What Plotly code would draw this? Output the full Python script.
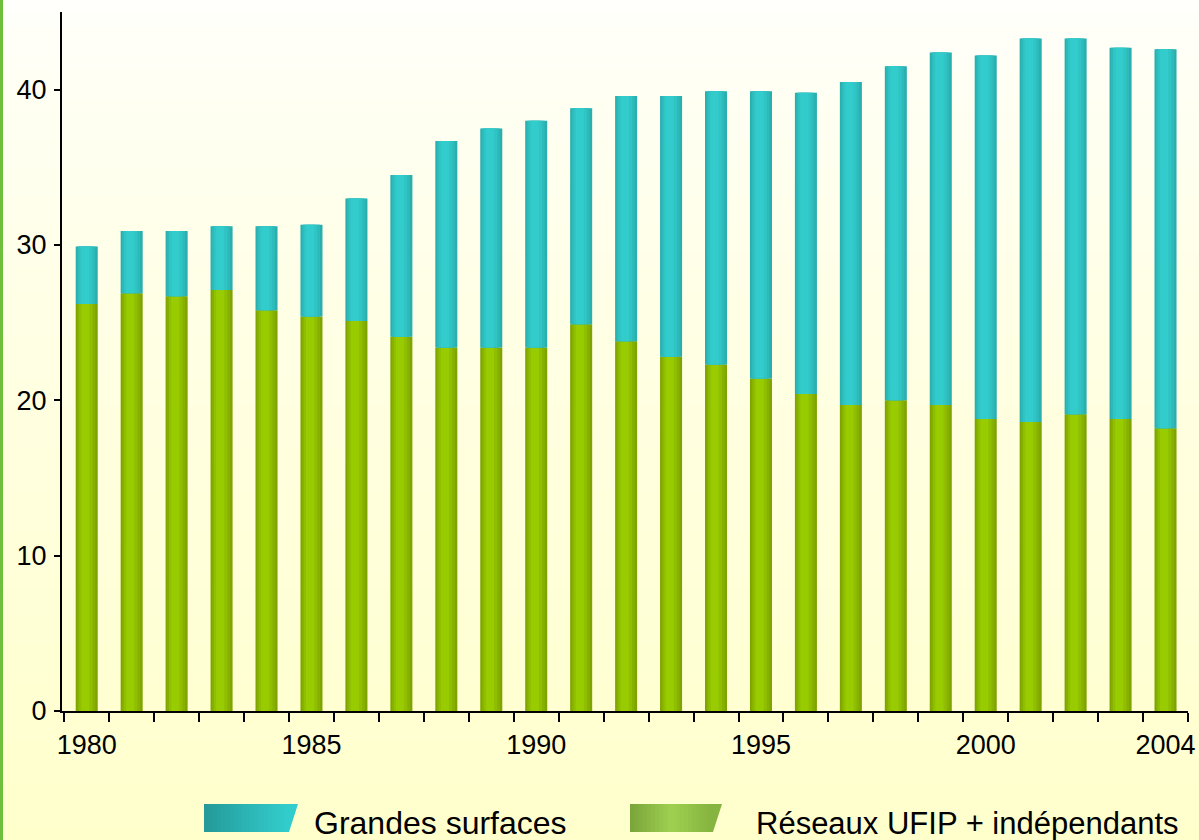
import plotly.graph_objects as go

years = list(range(1980, 2005))
totals = [29.9, 30.9, 30.9, 31.2, 31.2, 31.3, 33.0, 34.5, 36.7, 37.5, 38.0, 38.8, 39.6,
          39.6, 39.9, 39.9, 39.8, 40.5, 41.5, 42.4, 42.2, 43.3, 43.3, 42.7, 42.6]
reseaux = [26.2, 26.9, 26.7, 27.1, 25.8, 25.4, 25.1, 24.1, 23.4, 23.4, 23.4, 24.9, 23.8,
           22.8, 22.3, 21.4, 20.4, 19.7, 20.0, 19.7, 18.8, 18.6, 19.1, 18.8, 18.2]
grandes = [round(t - r, 1) for t, r in zip(totals, reseaux)]
tick_years = [1980, 1985, 1990, 1995, 2000, 2004]
series_names = ["Grandes surfaces", "Réseaux UFIP + indépendants"]

W, H = 1199, 840
L, R, T, B = 62, 11, 12, 129
PW, PH = W - L - R, H - T - B


def px(x):
    return (x - L) / PW


def py(y):
    return (H - B - y) / PH


def hexmix(c1, c2, t):
    a = [int(c1[i:i + 2], 16) for i in (1, 3, 5)]
    b = [int(c2[i:i + 2], 16) for i in (1, 3, 5)]
    return "#" + "".join(f"{round(a[k] + (b[k] - a[k]) * t):02x}" for k in range(3))


fig = go.Figure()

# layered bars to imitate horizontal gradient
green_layers = [(0.49, 0.0, "#7ea400"), (0.40, -0.01, "#87b000"), (0.30, -0.02, "#90be00"),
                (0.18, -0.03, "#99cc00")]
cyan_layers = [(0.49, 0.0, "#2aaeae"), (0.40, -0.01, "#2dbaba"), (0.30, -0.02, "#30c4c4"),
               (0.18, -0.03, "#33cccc")]

for w, off, col in green_layers:
    fig.add_trace(go.Bar(x=years, y=reseaux, base=0, width=w, offset=-w / 2 + off,
                         marker=dict(color=col, line=dict(width=0)), showlegend=False,
                         name=series_names[1], hoverinfo="x+y"))
for w, off, col in cyan_layers:
    fig.add_trace(go.Bar(x=years, y=grandes, base=reseaux, width=w, offset=-w / 2 + off,
                         marker=dict(color=col, line=dict(width=0)), showlegend=False,
                         name=series_names[0], hoverinfo="x+y"))

shapes = []
# background vertical gradient
n = 60
for i in range(n):
    y0 = H * i / n
    y1 = H * (i + 1) / n
    t = (i / (n - 1)) ** 0.8
    shapes.append(dict(type="rect", xref="paper", yref="paper", layer="below",
                       x0=px(-2), x1=px(W + 2), y0=py(y1 + 1), y1=py(y0),
                       fillcolor=hexmix("#fffffb", "#ffffcc", t), line=dict(width=0)))
# left green border
shapes.append(dict(type="rect", xref="paper", yref="paper", layer="above",
                   x0=px(-1), x1=px(3), y0=py(H + 2), y1=py(-2),
                   fillcolor="#6dbf3c", line=dict(width=0)))


def swatch(xl, xr_top, xr_bot, ytop, ybot, cl, cm, cr):
    # base parallelogram in end colour
    path = (f"M {px(xl):.5f},{py(ybot):.5f} L {px(xr_bot):.5f},{py(ybot):.5f} "
            f"L {px(xr_top):.5f},{py(ytop):.5f} L {px(xl):.5f},{py(ytop):.5f} Z")
    shapes.append(dict(type="path", xref="paper", yref="paper", path=path,
                       fillcolor=cr, line=dict(width=0), layer="above"))
    m = 20
    width = xr_bot - xl
    for k in range(m):
        xa = xl + width * k / m
        xb = min(xl + width * (k + 1) / m + 1.0, xr_bot)
        t = k / (m - 1)
        if t < 0.5:
            col = hexmix(cl, cm, t / 0.5)
        else:
            col = hexmix(cm, cr, (t - 0.5) / 0.5)
        shapes.append(dict(type="rect", xref="paper", yref="paper",
                           x0=px(xa), x1=px(xb), y0=py(ybot), y1=py(ytop),
                           fillcolor=col, line=dict(width=0), layer="above"))


swatch(204, 298, 289, 804, 832, "#259a9a", "#2cb4b4", "#33cccc")
swatch(630, 722, 713, 804, 832, "#7aa63c", "#a0d050", "#86b440")

annotations = [
    dict(text=series_names[0], x=px(312), y=py(823), xref="paper", yref="paper",
         xanchor="left", yanchor="middle", showarrow=False,
         font=dict(family="Liberation Sans, Arial", size=32, color="#000000")),
    dict(text=series_names[1], x=px(754), y=py(823), xref="paper", yref="paper",
         xanchor="left", yanchor="middle", showarrow=False,
         font=dict(family="Liberation Sans, Arial", size=31, color="#000000")),
]

fig.update_layout(
    width=W, height=H,
    margin=dict(l=L, r=R, t=T, b=B, autoexpand=False),
    paper_bgcolor="#ffffe0",
    plot_bgcolor="rgba(0,0,0,0)",
    barmode="overlay",
    bargap=0.5,
    showlegend=False,
    shapes=shapes,
    annotations=annotations,
    font=dict(family="Liberation Sans, Arial", size=27, color="#000000"),
    xaxis=dict(range=[1979.45, 2004.5], tickvals=tick_years, ticktext=[str(v) for v in tick_years],
               ticks="outside", ticklen=0, showline=True, linecolor="#000000", linewidth=2,
               showgrid=False, zeroline=False, ticklabelstandoff=9, automargin=False,
               minor=dict(ticks="outside", ticklen=9, tickwidth=2, tickcolor="#000000",
                          tick0=1979.5, dtick=1, showgrid=False)),
    yaxis=dict(range=[0, 45], tickvals=[0, 10, 20, 30, 40], ticks="outside", ticklen=6,
               tickwidth=2, tickcolor="#000000", showline=True, linecolor="#000000",
               linewidth=2, showgrid=False, zeroline=False, ticklabelstandoff=2,
               automargin=False),
)

fig.write_html("out.html", config={"displayModeBar": False},
               post_script="document.body.style.margin='0px';")
